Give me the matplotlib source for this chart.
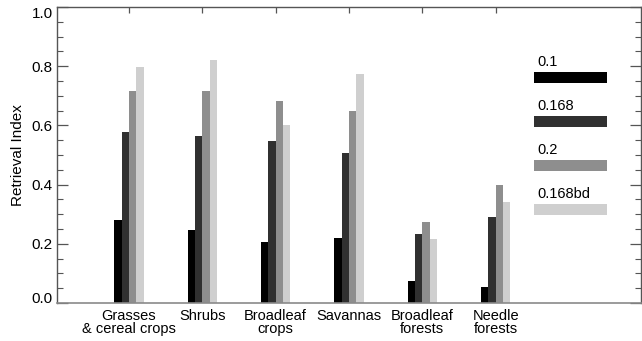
import matplotlib
matplotlib.use("Agg")
import matplotlib.pyplot as plt
from matplotlib.patches import Rectangle
import numpy as np

plt.rcParams['font.family'] = ['Liberation Sans', 'DejaVu Sans']

categories = ["Grasses\n& cereal crops", "Shrubs", "Broadleaf\ncrops",
              "Savannas", "Broadleaf\nforests", "Needle\nforests"]
series_names = ["0.1", "0.168", "0.2", "0.168bd"]
v_01 = [0.280, 0.247, 0.207, 0.218, 0.075, 0.055]
v_0168 = [0.579, 0.565, 0.547, 0.506, 0.232, 0.290]
v_02 = [0.716, 0.717, 0.682, 0.648, 0.275, 0.398]
v_0168bd = [0.798, 0.821, 0.602, 0.773, 0.215, 0.342]
series = [v_01, v_0168, v_02, v_0168bd]
colors = ["#000000", "#303030", "#8e8e8e", "#cfcfcf"]

W, H = 642, 341
fig = plt.figure(figsize=(W / 100, H / 100), dpi=100)
ax_l, ax_r, ax_t, ax_b = 57, 641, 7, 303
ax = fig.add_axes([ax_l / W, 1 - ax_b / H, (ax_r - ax_l) / W, (ax_b - ax_t) / H])

x = np.arange(1, len(categories) + 1)
bw = 0.1
offsets = [-1.5 * bw, -0.5 * bw, 0.5 * bw, 1.5 * bw]
for vals, off, c in zip(series, offsets, colors):
    ax.bar(x + off, vals, width=bw, color=c, edgecolor='none', zorder=2)

ax.set_xlim(0.02, 7.98)
ax.set_ylim(0, 1.0)

# spines
for s in ['left', 'top', 'right']:
    ax.spines[s].set_color('#555555')
    ax.spines[s].set_linewidth(1.0)
ax.spines['bottom'].set_color('#8a8a8a')
ax.spines['bottom'].set_linewidth(1.2)

# y ticks: left and right, inward
yt = [0.0, 0.2, 0.4, 0.6, 0.8, 1.0]
ax.set_yticks(yt)
ax.set_yticks(np.arange(0, 1.0001, 0.05), minor=True)
ax.yaxis.set_ticks_position('both')
ax.tick_params(axis='y', which='major', direction='in', length=8, width=0.9,
               color='#555555', labelsize=11, pad=3)
ax.tick_params(axis='y', which='minor', direction='in', length=4.3, width=0.8,
               color='#555555')
ax.tick_params(axis='y', which='both', right=True, labelright=False)
ax.set_yticklabels([f"{v:.1f}" for v in yt])
labs = ax.get_yticklabels()
labs[0].set_verticalalignment('baseline')
labs[-1].set_verticalalignment('top')

# x: ticks on top at category positions, labels on bottom
ax.set_xticks(x)
ax.set_xticklabels(categories, fontsize=10.5, linespacing=0.92)
ax.tick_params(axis='x', which='both', bottom=False, top=True, direction='in',
               length=4, width=0.9, color='#555555', pad=4)

ax.set_ylabel("Retrieval Index", fontsize=11, labelpad=5)

# legend: label above a wide swatch
def px(xp, yp):
    return (xp - ax_l) / (ax_r - ax_l), (ax_b - yp) / (ax_b - ax_t)

for i, (name, c) in enumerate(zip(series_names, colors)):
    top = 72 + i * 44
    x0, y0 = px(534, top + 11)
    x1, y1 = px(607, top)
    ax.add_patch(Rectangle((x0, y0), x1 - x0, y1 - y0, transform=ax.transAxes,
                           facecolor=c, edgecolor='none', clip_on=False))
    tx, ty = px(537, top - 10)
    ax.text(tx, ty, name, transform=ax.transAxes, fontsize=10.5,
            ha='left', va='center')

fig.savefig("out.png", dpi=100)
